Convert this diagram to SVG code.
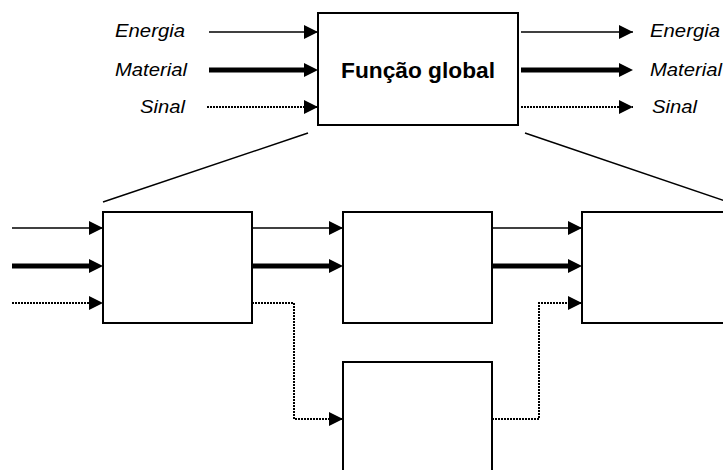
<svg xmlns="http://www.w3.org/2000/svg" width="723" height="470" viewBox="0 0 723 470">
  <style>
    .box { fill: #fff; stroke: #000; stroke-width: 2; }
    .lbl { font-family: "Liberation Sans", Arial, sans-serif; font-style: italic; font-size: 17.5px; fill: #000; }
    .title { font-family: "Liberation Sans", Arial, sans-serif; font-weight: bold; font-size: 22.5px; fill: #000; }
    .thin { fill: none; stroke: #000; stroke-width: 1.5; }
    .thick { fill: none; stroke: #000; stroke-width: 5; }
    .dot { fill: none; stroke: #000; stroke-width: 2; stroke-dasharray: 2 1; }
    .guide { fill: none; stroke: #000; stroke-width: 1.5; }
  </style>
  <defs>
    <!-- arrowhead whose tip sits on the line end -->
    <marker id="head" markerUnits="userSpaceOnUse" markerWidth="15" markerHeight="14" refX="14" refY="7" orient="auto">
      <path d="M0,0 L14,7 L0,14 Z" fill="#000"/>
    </marker>
    <!-- arrowhead for heavy lines: tip 8px past the line end -->
    <marker id="headThick" markerUnits="userSpaceOnUse" markerWidth="15" markerHeight="14" refX="6" refY="7" orient="auto">
      <path d="M0,0 L14,7 L0,14 Z" fill="#000"/>
    </marker>
  </defs>
  <rect width="723" height="470" fill="#fff"/>

  <!-- overall function -->
  <g id="funcao-global">
    <rect class="box" x="318" y="13" width="200" height="112"/>
    <text class="title" x="418" y="78" text-anchor="middle" textLength="154" lengthAdjust="spacingAndGlyphs">Função global</text>
  </g>

  <!-- flow labels -->
  <g id="labels-in">
    <text class="lbl" x="185" y="37" text-anchor="end" textLength="70" lengthAdjust="spacingAndGlyphs">Energia</text>
    <text class="lbl" x="187" y="76" text-anchor="end" textLength="72" lengthAdjust="spacingAndGlyphs">Material</text>
    <text class="lbl" x="185" y="113" text-anchor="end" textLength="45" lengthAdjust="spacingAndGlyphs">Sinal</text>
  </g>
  <g id="labels-out">
    <text class="lbl" x="650" y="37" textLength="70" lengthAdjust="spacingAndGlyphs">Energia</text>
    <text class="lbl" x="650" y="76" textLength="72" lengthAdjust="spacingAndGlyphs">Material</text>
    <text class="lbl" x="652" y="113" textLength="45" lengthAdjust="spacingAndGlyphs">Sinal</text>
  </g>

  <!-- sub-functions -->
  <g id="sub-a"><rect class="box" x="103" y="212" width="149" height="111"/></g>
  <g id="sub-b"><rect class="box" x="343" y="212" width="149" height="111"/></g>
  <g id="sub-c"><rect class="box" x="582" y="212" width="160" height="111"/></g>
  <g id="sub-d"><rect class="box" x="343" y="362" width="149" height="130"/></g>

  <g id="connectors">
    <!-- breakdown guides -->
    <line class="guide" x1="308" y1="133" x2="103" y2="202"/>
    <line class="guide" x1="525" y1="133" x2="725" y2="201"/>

    <!-- into overall function -->
    <line class="thin" x1="209" y1="32" x2="318" y2="32" marker-end="url(#head)"/>
    <line class="thick" x1="209" y1="70" x2="310" y2="70" marker-end="url(#headThick)"/>
    <line class="dot" x1="207" y1="107" x2="318" y2="107" marker-end="url(#head)"/>

    <!-- out of overall function -->
    <line class="thin" x1="521" y1="32" x2="633" y2="32" marker-end="url(#head)"/>
    <line class="thick" x1="521" y1="70" x2="625" y2="70" marker-end="url(#headThick)"/>
    <line class="dot" x1="521" y1="107" x2="633" y2="107" marker-end="url(#head)"/>

    <!-- into A -->
    <line class="thin" x1="12" y1="228" x2="103" y2="228" marker-end="url(#head)"/>
    <line class="thick" x1="12" y1="266" x2="95" y2="266" marker-end="url(#headThick)"/>
    <line class="dot" x1="12" y1="303" x2="103" y2="303" marker-end="url(#head)"/>

    <!-- A to B -->
    <line class="thin" x1="252" y1="228" x2="343" y2="228" marker-end="url(#head)"/>
    <line class="thick" x1="252" y1="266" x2="335" y2="266" marker-end="url(#headThick)"/>

    <!-- B to C -->
    <line class="thin" x1="492" y1="228" x2="582" y2="228" marker-end="url(#head)"/>
    <line class="thick" x1="492" y1="266" x2="574" y2="266" marker-end="url(#headThick)"/>

    <!-- signal A to D, D to C -->
    <polyline class="dot" points="252,303 294,303 294,419 343,419" marker-end="url(#head)"/>
    <polyline class="dot" points="492,419 539,419 539,303 582,303" marker-end="url(#head)"/>
  </g>
</svg>
